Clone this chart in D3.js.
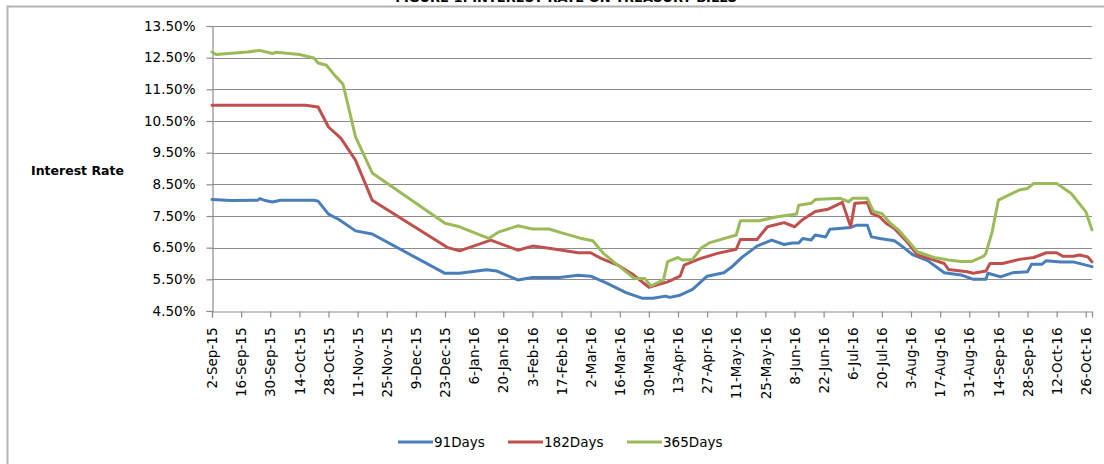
<!DOCTYPE html>
<html>
<head>
<meta charset="utf-8">
<script src="https://cdn.jsdelivr.net/npm/d3@7"></script>
<style>
  html, body { margin: 0; padding: 0; background: #ffffff; }
  svg { display: block; }
  text { font-family: "DejaVu Sans", sans-serif; fill: #000; }
</style>
</head>
<body>
<svg id="chart" width="1104" height="464"></svg>
<script>
const titleText = "FIGURE 1: INTEREST RATE ON TREASURY BILLS";
const yAxisTitle = "Interest Rate";
const seriesNames = ["91Days", "182Days", "365Days"];
const seriesColors = ["#4a7ebb", "#c0504d", "#9bbb59"];
const yTicks = [4.5, 5.5, 6.5, 7.5, 8.5, 9.5, 10.5, 11.5, 12.5, 13.5];
const xTickDates = ["2015-09-02","2015-09-16","2015-09-30","2015-10-14","2015-10-28","2015-11-11","2015-11-25","2015-12-09","2015-12-23","2016-01-06","2016-01-20","2016-02-03","2016-02-17","2016-03-02","2016-03-16","2016-03-30","2016-04-13","2016-04-27","2016-05-11","2016-05-25","2016-06-08","2016-06-22","2016-07-06","2016-07-20","2016-08-03","2016-08-17","2016-08-31","2016-09-14","2016-09-28","2016-10-12","2016-10-26"];
const xDomain = ["2015-09-02", "2016-10-29"];

const rate91 = [["2015-09-02",8.02],["2015-09-11",7.99],["2015-09-24",8.0],["2015-09-25",8.05],["2015-09-27",8.0],["2015-10-01",7.94],["2015-10-05",8.0],["2015-10-21",8.0],["2015-10-23",7.97],["2015-10-28",7.56],["2015-11-02",7.39],["2015-11-10",7.03],["2015-11-18",6.93],["2015-12-23",5.69],["2015-12-30",5.69],["2016-01-12",5.8],["2016-01-17",5.76],["2016-01-27",5.48],["2016-02-03",5.56],["2016-02-16",5.56],["2016-02-25",5.63],["2016-03-02",5.6],["2016-03-10",5.37],["2016-03-19",5.08],["2016-03-27",4.9],["2016-04-01",4.9],["2016-04-07",4.97],["2016-04-09",4.93],["2016-04-14",5.0],["2016-04-20",5.18],["2016-04-27",5.6],["2016-05-05",5.71],["2016-05-09",5.9],["2016-05-14",6.21],["2016-05-21",6.55],["2016-05-28",6.74],["2016-06-03",6.6],["2016-06-07",6.65],["2016-06-10",6.65],["2016-06-12",6.79],["2016-06-16",6.74],["2016-06-18",6.9],["2016-06-23",6.84],["2016-06-25",7.08],["2016-07-05",7.14],["2016-07-08",7.21],["2016-07-13",7.21],["2016-07-15",6.84],["2016-07-19",6.79],["2016-07-26",6.72],["2016-07-29",6.58],["2016-08-04",6.27],["2016-08-11",6.09],["2016-08-19",5.71],["2016-08-27",5.64],["2016-09-02",5.5],["2016-09-08",5.5],["2016-09-09",5.69],["2016-09-15",5.58],["2016-09-21",5.71],["2016-09-28",5.74],["2016-09-30",5.98],["2016-10-05",5.98],["2016-10-07",6.09],["2016-10-14",6.05],["2016-10-20",6.05],["2016-10-29",5.9]];

const rate182 = [["2015-09-02",11.0],["2015-10-17",11.0],["2015-10-23",10.94],["2015-10-28",10.31],["2015-11-03",9.95],["2015-11-10",9.26],["2015-11-18",8.0],["2015-12-24",6.51],["2015-12-30",6.4],["2016-01-14",6.74],["2016-01-27",6.42],["2016-02-03",6.55],["2016-02-11",6.48],["2016-02-25",6.34],["2016-03-02",6.34],["2016-03-07",6.16],["2016-03-15",5.95],["2016-03-22",5.67],["2016-03-30",5.25],["2016-04-08",5.42],["2016-04-14",5.6],["2016-04-16",5.95],["2016-04-20",6.06],["2016-04-24",6.16],["2016-05-02",6.32],["2016-05-11",6.45],["2016-05-13",6.76],["2016-05-21",6.76],["2016-05-26",7.16],["2016-06-03",7.29],["2016-06-08",7.16],["2016-06-12",7.39],["2016-06-18",7.64],["2016-06-24",7.71],["2016-07-01",7.93],["2016-07-05",7.16],["2016-07-07",7.9],["2016-07-13",7.93],["2016-07-15",7.58],["2016-07-19",7.47],["2016-07-22",7.27],["2016-07-26",7.11],["2016-08-01",6.69],["2016-08-06",6.27],["2016-08-13",6.13],["2016-08-19",6.0],["2016-08-21",5.81],["2016-08-30",5.74],["2016-09-02",5.69],["2016-09-08",5.76],["2016-09-10",6.0],["2016-09-16",6.0],["2016-09-24",6.13],["2016-10-01",6.19],["2016-10-07",6.34],["2016-10-12",6.34],["2016-10-15",6.23],["2016-10-20",6.23],["2016-10-23",6.27],["2016-10-27",6.21],["2016-10-29",6.05]];

const rate365 = [["2015-09-02",12.68],["2015-09-04",12.6],["2015-09-19",12.68],["2015-09-25",12.73],["2015-10-01",12.63],["2015-10-03",12.67],["2015-10-14",12.6],["2015-10-21",12.49],["2015-10-23",12.33],["2015-10-27",12.26],["2015-10-31",11.94],["2015-11-04",11.66],["2015-11-10",10.0],["2015-11-18",8.86],["2015-12-23",7.27],["2015-12-30",7.16],["2016-01-13",6.79],["2016-01-18",7.0],["2016-01-27",7.19],["2016-02-03",7.09],["2016-02-11",7.09],["2016-02-18",6.95],["2016-02-26",6.8],["2016-03-03",6.72],["2016-03-08",6.33],["2016-03-15",5.95],["2016-03-23",5.53],["2016-03-28",5.53],["2016-03-31",5.29],["2016-04-06",5.48],["2016-04-08",6.06],["2016-04-13",6.19],["2016-04-15",6.11],["2016-04-20",6.13],["2016-04-24",6.48],["2016-04-28",6.65],["2016-05-11",6.9],["2016-05-13",7.35],["2016-05-22",7.35],["2016-05-30",7.47],["2016-06-09",7.56],["2016-06-10",7.84],["2016-06-16",7.9],["2016-06-18",8.02],["2016-06-30",8.06],["2016-07-04",7.95],["2016-07-06",8.06],["2016-07-13",8.06],["2016-07-16",7.64],["2016-07-20",7.58],["2016-07-24",7.27],["2016-07-28",7.06],["2016-08-02",6.69],["2016-08-06",6.37],["2016-08-14",6.19],["2016-08-21",6.11],["2016-08-27",6.06],["2016-09-01",6.06],["2016-09-07",6.23],["2016-09-08",6.32],["2016-09-11",7.0],["2016-09-14",8.0],["2016-09-24",8.32],["2016-09-28",8.37],["2016-10-01",8.53],["2016-10-12",8.53],["2016-10-19",8.21],["2016-10-26",7.64],["2016-10-29",7.06]];

const allSeries = [rate91, rate182, rate365];

const parse = d3.timeParse("%Y-%m-%d");
const fmtTick = d3.timeFormat("%-d-%b-%y");
const svg = d3.select("#chart");

const plot = { left: 212, right: 1092, top: 26, bottom: 311 };

const x = d3.scaleTime().domain(xDomain.map(parse)).range([plot.left, plot.right]);
const y = d3.scaleLinear().domain([4.5, 13.5]).range([plot.bottom, plot.top]);

// outer border (top & left visible)
svg.append("rect").attr("x", 7.5).attr("y", 6.5).attr("width", 1200).attr("height", 600)
  .attr("fill", "none").attr("stroke", "#b3b3b3").attr("stroke-width", 2);

// title (mostly cropped at the top)
svg.append("text").attr("x", 566).attr("y", 2).attr("text-anchor", "middle")
  .style("font-weight", "bold").style("font-size", "13px").text(titleText);

// gridlines
svg.append("g").selectAll("line").data(yTicks.slice(1)).join("line")
  .attr("x1", plot.left).attr("x2", plot.right)
  .attr("y1", d => Math.round(y(d)) + 0.5).attr("y2", d => Math.round(y(d)) + 0.5)
  .attr("stroke", "#8c8c8c").attr("stroke-width", 1.2);

// y axis
const yAxis = d3.axisLeft(y).tickValues(yTicks).tickSize(6).tickPadding(11)
  .tickFormat(d => d3.format(".2f")(d) + "%");
const gy = svg.append("g").attr("transform", `translate(${plot.left + 0.5},0)`).call(yAxis);
gy.select(".domain").attr("stroke", "#8c8c8c").attr("stroke-width", 1.2);
gy.selectAll(".tick line").attr("stroke", "#8c8c8c").attr("stroke-width", 1.2);
gy.selectAll(".tick text").style("font-size", "13.5px").style("font-family", "DejaVu Sans").attr("fill", "#000");

// x axis
const xAxis = d3.axisBottom(x).tickValues(xTickDates.map(parse)).tickSize(6).tickFormat(fmtTick);
const gx = svg.append("g").attr("transform", `translate(0,${plot.bottom + 0.5})`).call(xAxis);
gx.select(".domain").attr("stroke", "#8c8c8c").attr("stroke-width", 1.2);
gx.selectAll(".tick line").attr("stroke", "#8c8c8c").attr("stroke-width", 1.2);
gx.selectAll(".tick text")
  .style("font-size", "13.5px").style("font-family", "DejaVu Sans").attr("fill", "#000")
  .attr("text-anchor", "end")
  .attr("transform", "translate(0,16) rotate(-90)")
  .attr("x", 0).attr("y", 0).attr("dy", "0.35em");

// axis title
svg.append("text").attr("x", 31).attr("y", 175)
  .style("font-weight", "bold").style("font-size", "12.5px").text(yAxisTitle);

// lines
const line = d3.line().x(d => x(parse(d[0]))).y(d => y(d[1]));
svg.append("g").selectAll("path").data(allSeries).join("path")
  .attr("d", line).attr("fill", "none")
  .attr("stroke", (d, i) => seriesColors[i]).attr("stroke-width", 3)
  .attr("stroke-linejoin", "round").attr("stroke-linecap", "round");

// legend
const legendX = [398, 508, 627];
const lg = svg.append("g");
seriesNames.forEach((name, i) => {
  lg.append("line").attr("x1", legendX[i]).attr("x2", legendX[i] + 35)
    .attr("y1", 442).attr("y2", 442).attr("stroke", seriesColors[i]).attr("stroke-width", 3);
  lg.append("text").attr("x", legendX[i] + 36).attr("y", 447)
    .style("font-size", "13.5px").text(name);
});
</script>
</body>
</html>
